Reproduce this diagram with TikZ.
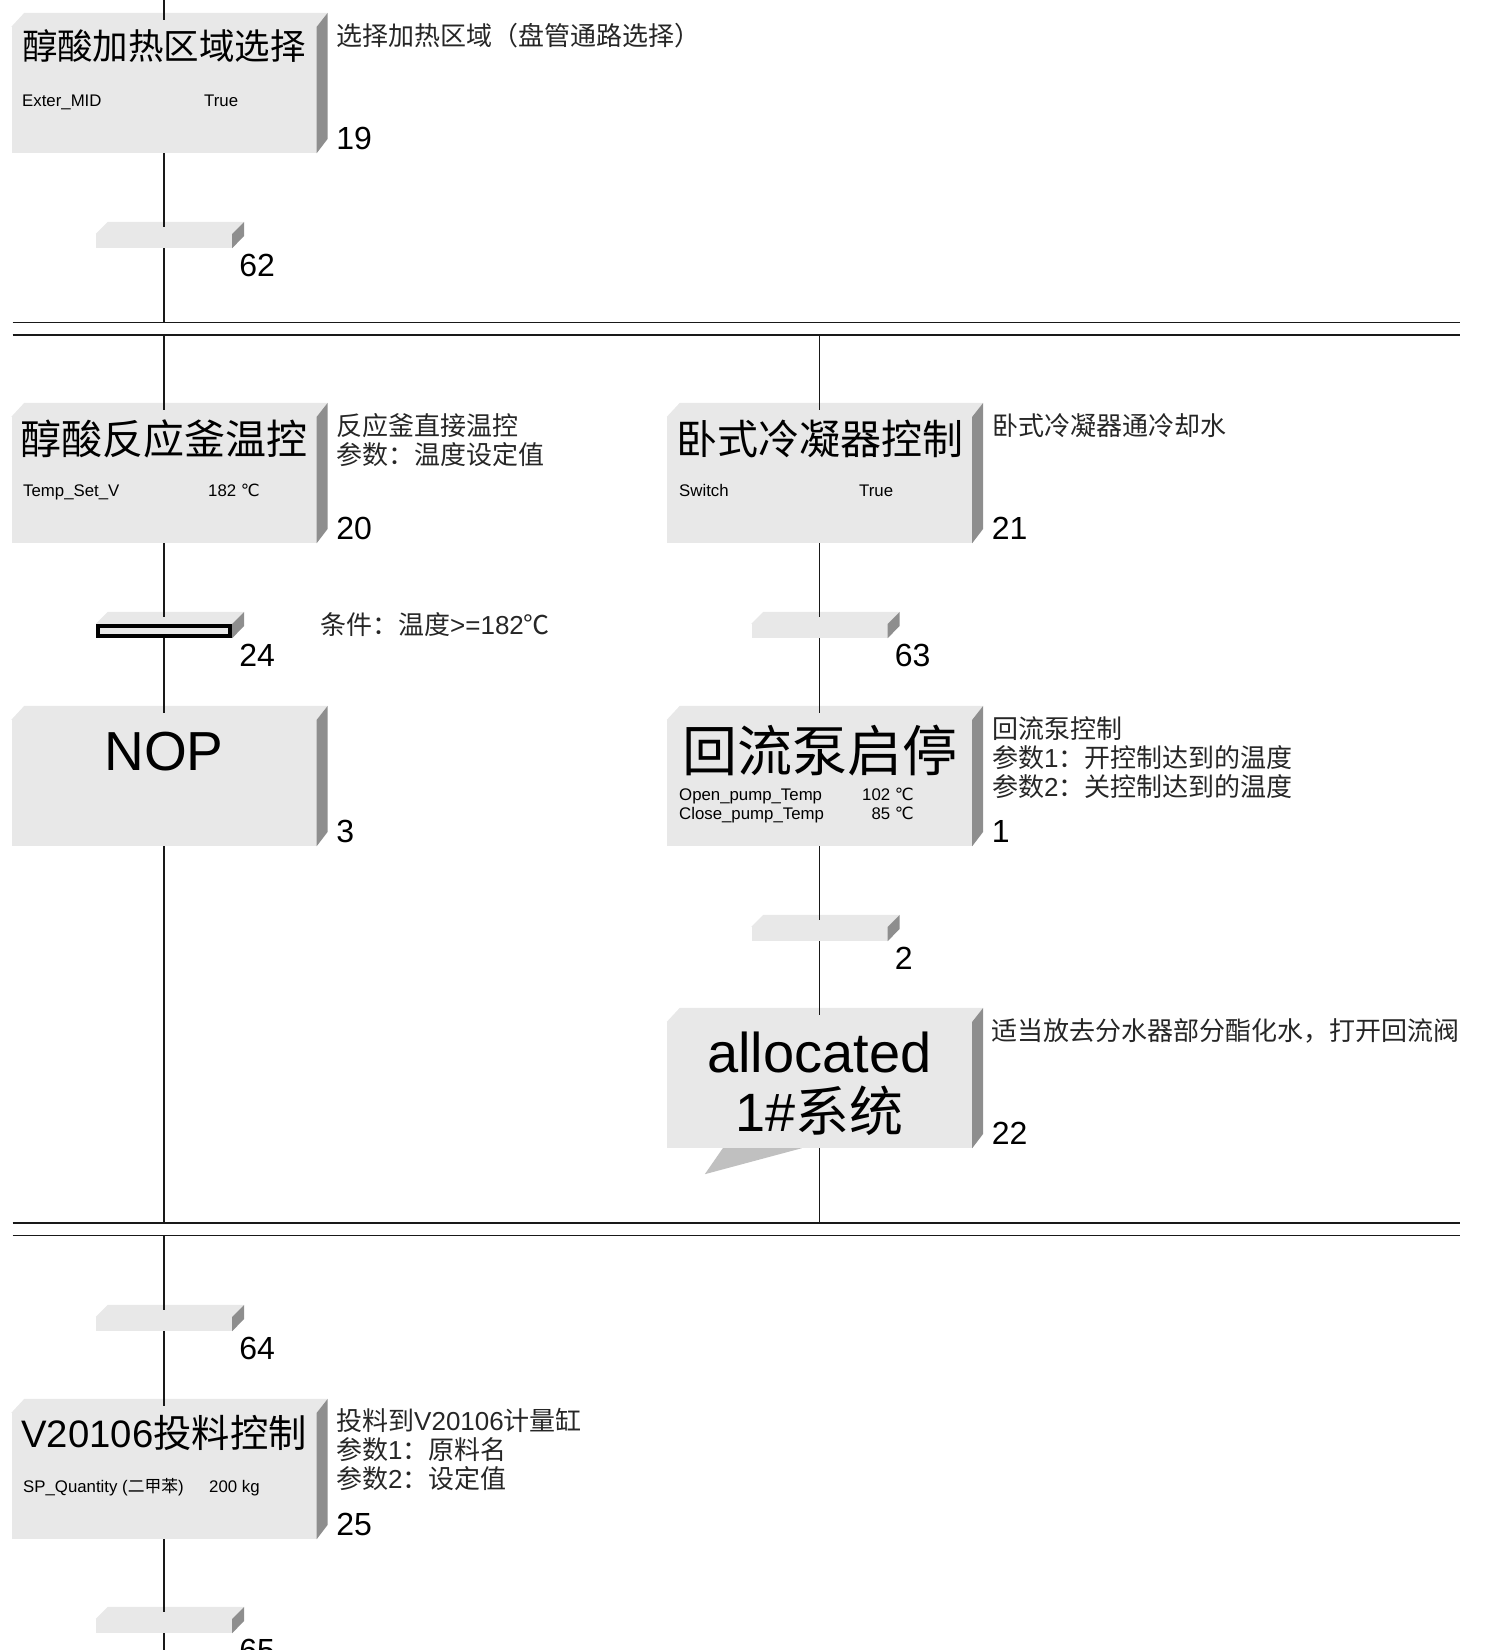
\documentclass[tikz,border=0pt]{standalone}
\usepackage{fontspec}
\setmainfont{Liberation Sans}
\newfontfamily\cjk{Noto Sans CJK SC}
\newfontfamily\symf{DejaVu Sans}
\definecolor{facegray}{HTML}{E8E8E8}
\definecolor{sidegray}{HTML}{8E8E8E}
\definecolor{tailgray}{HTML}{C0C0C0}
\newcommand{\degc}{{\symf ℃}}

\begin{document}
\begin{tikzpicture}[x=1pt, y=-1pt,
    stepbox/.style={fill=facegray, minimum width=305pt, minimum height=126pt, inner sep=0pt},
    transbox/.style={fill=facegray, minimum width=136pt, minimum height=14pt, inner sep=0pt},
    link/.style={line width=1.4pt, draw=black!90},
    title/.style={inner sep=0pt, anchor=base},
    param/.style={inner sep=0pt, anchor=base west, font=\fontsize{16.8}{20}\selectfont},
    note/.style={inner sep=0pt, anchor=base west, text=black!85, font=\fontsize{26}{29}\selectfont\cjk},
    num/.style={inner sep=0pt, anchor=base west, font=\fontsize{32}{32}\selectfont}]

    \useasboundingbox (0,0) rectangle (1491,1650);

    % Steps
    \foreach \n/\x/\y in {19/164/90, 20/164/480, 21/819.5/480, 3/164/783, 1/819.5/783, 22/819.5/1085, 25/164/1476} {
        \node[stepbox] (s\n) at (\x,\y) {};
        \fill[facegray] (s\n.north west) -- ++(13,-14) -- ([shift={(11,-14)}]s\n.north east) -- (s\n.north east) -- cycle;
        \fill[sidegray] (s\n.north east) -- ++(11,-14) -- ++(0,126) -- (s\n.south east) -- cycle;
        \node[num] (s\n-num) at ([shift={(19.5,-4)}]s\n.south east) {\n};
    }
    \fill[tailgray] ([xshift=56pt]s22.south west) -- ([xshift=135pt]s22.south west) -- ([shift={(38,26)}]s22.south west) -- cycle;

    % Transitions
    \foreach \n/\x/\y in {62/164/241, 24/164/631, 63/819.5/631, 2/819.5/934, 64/164/1324, 65/164/1626} {
        \node[transbox] (t\n) at (\x,\y) {};
        \fill[facegray] (t\n.north west) -- ++(12,-12) -- ([shift={(12,-12)}]t\n.north east) -- (t\n.north east) -- cycle;
        \fill[sidegray] (t\n.north east) -- ++(12,-12) -- ++(0,14) -- (t\n.south east) -- cycle;
        \node[num] (t\n-num) at ([shift={(7,28)}]t\n.south east) {\n};
    }
    \draw[line width=4pt] ([shift={(2,2)}]t24.north west) rectangle ([shift={(-2,-2)}]t24.south east);

    % Separators
    \foreach \y in {322.3, 335, 1223, 1235.7}
        \draw[link] (12.6,\y) -- (1460,\y);

    \coordinate (l-top) at (164,0);
    \coordinate (l-sep1) at (164,322.3);
    \coordinate (l-sep2) at (164,335);
    \coordinate (l-sep3) at (164,1223);
    \coordinate (l-sep4) at (164,1235.7);
    \coordinate (l-end) at (164,1650);
    \coordinate (r-sep2) at (819.5,335);
    \coordinate (r-sep3) at (819.5,1223);

    % Links
    \foreach \a/\b in {s19/t62, s20/t24, t24/s3, t64/s25, s25/t65, s21/t63, t63/s1, s1/t2, t2/s22} {
        \draw[link] (\a.south) -- ([yshift=6.5pt]\b.north);
    }
    \foreach \a/\b in {l-top/s19, l-sep2/s20, l-sep4/t64, r-sep2/s21} {
        \draw[link] (\a) -- ([yshift=6.5pt]\b.north);
    }
    \foreach \a/\b in {t62/l-sep1, s3/l-sep3, t65/l-end, s22/r-sep3} {
        \draw[link] (\a.south) -- (\b);
    }

    % Step titles
    \node[title, font=\fontsize{35.5}{40}\selectfont\cjk] (s19-title) at (164,59) {醇酸加热区域选择};
    \node[title, font=\fontsize{41}{46}\selectfont\cjk] (s20-title) at (164,454.5) {醇酸反应釜温控};
    \node[title, font=\fontsize{41}{46}\selectfont\cjk] (s21-title) at (819.5,454.5) {卧式冷凝器控制};
    \node[title, font=\fontsize{55}{60}\selectfont] (s3-title) at (164,770) {NOP};
    \node[title, font=\fontsize{55}{60}\selectfont\cjk] (s1-title) at (819.5,771) {回流泵启停};
    \node[title, font=\fontsize{56}{60}\selectfont] (s22-title-a) at (819.5,1072) {allocated};
    \node[title, font=\fontsize{54}{60}\selectfont] (s22-title-b) at (819.5,1131) {1\#{\cjk 系统}};
    \node[title, font=\fontsize{38.3}{44}\selectfont] (s25-title) at (164,1447) {V20106{\cjk 投料控制}};

    % Parameters
    \node[param] (s19-p1) at (22,106) {Exter\_MID};
    \node[param] (s19-v1) at (204,106) {True};
    \node[param] (s20-p1) at (23,496) {Temp\_Set\_V};
    \node[param] (s20-v1) at (208,496) {182 \degc};
    \node[param] (s21-p1) at (679,496) {Switch};
    \node[param] (s21-v1) at (859,496) {True};
    \node[param] (s1-p1) at (679,800) {Open\_pump\_Temp};
    \node[param, anchor=base east] (s1-v1) at (914,800) {102 \degc};
    \node[param] (s1-p2) at (679,819) {Close\_pump\_Temp};
    \node[param, anchor=base east] (s1-v2) at (914,819) {85 \degc};
    \node[param] (s25-p1) at (23,1492) {SP\_Quantity ({\cjk 二甲苯})};
    \node[param] (s25-v1) at (209,1492) {200 kg};

    % Comments
    \node[note] (s19-n1) at (336,45) {选择加热区域（盘管通路选择）};
    \node[note] (s20-n1) at (336,435) {反应釜直接温控};
    \node[note] (s20-n2) at (336,464) {参数：温度设定值};
    \node[note] (s21-n1) at (992,435) {卧式冷凝器通冷却水};
    \node[note] (t24-n1) at (320,634) {条件：温度{\rmfamily >=182}℃};
    \node[note] (s1-n1) at (992,738) {回流泵控制};
    \node[note] (s1-n2) at (992,767) {参数{\rmfamily 1}：开控制达到的温度};
    \node[note] (s1-n3) at (992,796) {参数{\rmfamily 2}：关控制达到的温度};
    \node[note] (s22-n1) at (991,1040) {适当放去分水器部分酯化水，打开回流阀};
    \node[note] (s25-n1) at (336,1430) {投料到{\rmfamily V20106}计量缸};
    \node[note] (s25-n2) at (336,1459) {参数{\rmfamily 1}：原料名};
    \node[note] (s25-n3) at (336,1488) {参数{\rmfamily 2}：设定值};
\end{tikzpicture}
\end{document}
